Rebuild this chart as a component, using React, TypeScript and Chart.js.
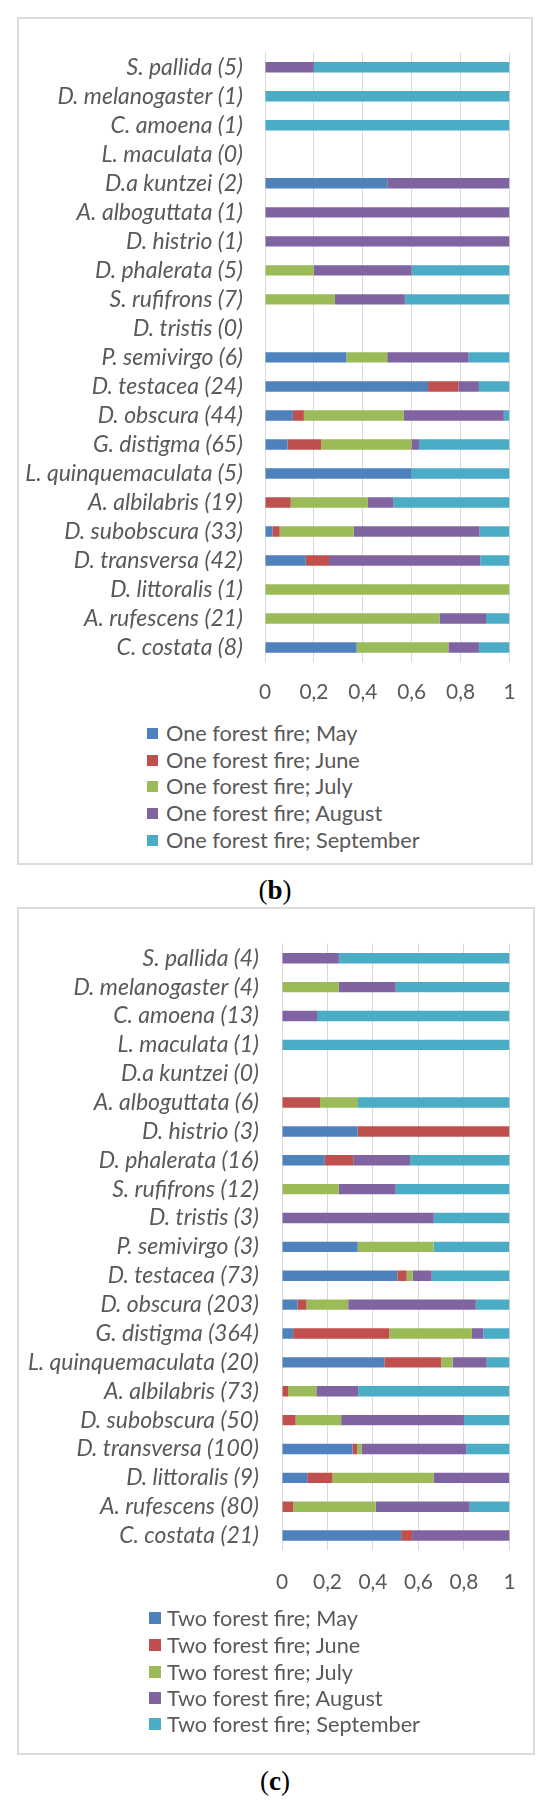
import React, { useEffect, useRef } from "react";
import { Chart, registerables } from "chart.js";

Chart.register(...registerables);

// ---------- data ----------
const categoriesB = [
  "S. pallida (5)", "D. melanogaster (1)", "C. amoena (1)", "L. maculata (0)", "D.a kuntzei (2)",
  "A. alboguttata (1)", "D. histrio (1)", "D. phalerata (5)", "S. rufifrons (7)", "D. tristis (0)",
  "P. semivirgo (6)", "D. testacea (24)", "D. obscura (44)", "G. distigma (65)", "L. quinquemaculata (5)",
  "A. albilabris (19)", "D. subobscura (33)", "D. transversa (42)", "D. littoralis (1)", "A. rufescens (21)",
  "C. costata (8)",
];
const mayB = [0, 0, 0, 0, 0.5, 0, 0, 0, 0, 0, 0.333, 0.667, 0.114, 0.092, 0.6, 0, 0.03, 0.167, 0, 0, 0.375];
const juneB = [0, 0, 0, 0, 0, 0, 0, 0, 0, 0, 0, 0.125, 0.045, 0.138, 0, 0.105, 0.03, 0.095, 0, 0, 0];
const julyB = [0, 0, 0, 0, 0, 0, 0, 0.2, 0.286, 0, 0.167, 0, 0.409, 0.369, 0, 0.316, 0.303, 0, 1, 0.714, 0.375];
const augustB = [0.2, 0, 0, 0, 0.5, 1, 1, 0.4, 0.286, 0, 0.333, 0.083, 0.409, 0.031, 0, 0.105, 0.515, 0.619, 0, 0.19, 0.125];
const septemberB = [0.8, 1, 1, 0, 0, 0, 0, 0.4, 0.428, 0, 0.167, 0.125, 0.023, 0.37, 0.4, 0.474, 0.121, 0.119, 0, 0.096, 0.125];

const categoriesC = [
  "S. pallida (4)", "D. melanogaster (4)", "C. amoena (13)", "L. maculata (1)", "D.a kuntzei (0)",
  "A. alboguttata (6)", "D. histrio (3)", "D. phalerata (16)", "S. rufifrons (12)", "D. tristis (3)",
  "P. semivirgo (3)", "D. testacea (73)", "D. obscura (203)", "G. distigma (364)", "L. quinquemaculata (20)",
  "A. albilabris (73)", "D. subobscura (50)", "D. transversa (100)", "D. littoralis (9)", "A. rufescens (80)",
  "C. costata (21)",
];
const mayC = [0, 0, 0, 0, 0, 0, 0.333, 0.188, 0, 0, 0.333, 0.507, 0.069, 0.049, 0.45, 0, 0, 0.31, 0.111, 0, 0.524];
const juneC = [0, 0, 0, 0, 0, 0.167, 0.667, 0.125, 0, 0, 0, 0.041, 0.039, 0.423, 0.25, 0.027, 0.06, 0.02, 0.111, 0.05, 0.048];
const julyC = [0, 0.25, 0, 0, 0, 0.167, 0, 0, 0.25, 0, 0.333, 0.027, 0.183, 0.363, 0.05, 0.124, 0.2, 0.02, 0.444, 0.362, 0];
const augustC = [0.25, 0.25, 0.154, 0, 0, 0, 0, 0.25, 0.25, 0.667, 0, 0.083, 0.561, 0.05, 0.15, 0.184, 0.54, 0.46, 0.333, 0.413, 0.429];
const septemberC = [0.75, 0.5, 0.846, 1, 0, 0.667, 0, 0.438, 0.5, 0.333, 0.333, 0.342, 0.148, 0.115, 0.1, 0.665, 0.2, 0.19, 0, 0.175, 0];

const months = ["May", "June", "July", "August", "September"];
const xTickLabels = ["0", "0,2", "0,4", "0,6", "0,8", "1"];

// ---------- styles ----------
const COLORS = ["#4F81BD", "#C0504D", "#9BBB59", "#8064A2", "#4BACC6"];
const TEXT = "#595959";
const FONT = "Lato, 'Open Sans', sans-serif";

// font size chosen so that a reference string gets a given pixel width
function fitSize(text: string, style: string, target: number): number {
  const ctx = document.createElement("canvas").getContext("2d");
  if (!ctx) return 21;
  ctx.font = `${style} 100px ${FONT}`;
  const w = ctx.measureText(text).width || 1;
  return Math.round((target / w) * 1000) / 10;
}

type Cfg = {
  boxLeft: number; boxTop: number; boxW: number; boxH: number;
  yAxisW: number; yPad: number; padTop: number; padRight: number;
  plotBottom: number; labelCenter: number;
  legendBoxX: number; legendTextX: number; legendRows: number[]; legendBox: number;
  captionY: number; caption: string;
};

const CANVAS_H = 700;

function StackChart({ categories, series, prefix, cfg }: { categories: string[]; series: number[][]; prefix: string; cfg: Cfg }) {
  const ref = useRef<HTMLCanvasElement | null>(null);
  const labelFS = fitSize("L. quinquemaculata (5)", "italic", 218);
  const legendFS = fitSize("One forest fire; September", "normal", 254);
  const tickFS = fitSize("0,2", "normal", 29);

  useEffect(() => {
    if (!ref.current) return;
    const xAxisH = CANVAS_H - cfg.plotBottom;
    const xPad = cfg.labelCenter - cfg.plotBottom - (tickFS * 1.2) / 2;
    const chart = new Chart(ref.current, {
      type: "bar",
      data: {
        labels: categories,
        datasets: series.map((vals, i) => ({
          label: `${prefix}; ${months[i]}`,
          data: vals,
          backgroundColor: COLORS[i],
          borderWidth: 0,
          barPercentage: 0.36,
          categoryPercentage: 1,
        })),
      },
      options: {
        indexAxis: "y",
        responsive: false,
        animation: false,
        layout: { padding: { top: cfg.padTop, right: cfg.padRight, left: 0, bottom: 0 } },
        plugins: { legend: { display: false }, tooltip: { enabled: false } },
        scales: {
          x: {
            stacked: true,
            min: 0,
            max: 1,
            ticks: {
              stepSize: 0.2,
              color: TEXT,
              font: { family: FONT, size: tickFS },
              padding: xPad,
              callback: (_v: any, idx: number) => xTickLabels[idx],
            },
            grid: { color: "#d9d9d9", lineWidth: 1, drawTicks: false },
            border: { display: false },
            afterFit: (s: any) => { s.height = xAxisH; },
          },
          y: {
            stacked: true,
            ticks: {
              color: TEXT,
              font: { family: FONT, size: labelFS, style: "italic" },
              padding: cfg.yPad,
              autoSkip: false,
            },
            grid: { display: false, drawTicks: false },
            border: { display: false },
            afterFit: (s: any) => { s.width = cfg.yAxisW; },
          },
        },
      } as any,
    });
    return () => chart.destroy();
  }, []);

  return (
    <>
      <div
        style={{
          position: "absolute",
          left: cfg.boxLeft,
          top: cfg.boxTop,
          width: cfg.boxW,
          height: cfg.boxH,
          border: "2px solid #dcdcdc",
          boxSizing: "border-box",
          background: "#fff",
        }}
      />
      <canvas
        ref={ref}
        width={cfg.boxW}
        height={CANVAS_H}
        style={{ position: "absolute", left: cfg.boxLeft, top: cfg.boxTop, width: cfg.boxW, height: CANVAS_H }}
      />
      {months.map((m, i) => (
        <div
          key={m}
          style={{
            position: "absolute",
            left: cfg.boxLeft + cfg.legendBoxX,
            top: cfg.boxTop + cfg.legendRows[i] - 15,
            height: 30,
            display: "flex",
            alignItems: "center",
            whiteSpace: "nowrap",
            fontFamily: FONT,
            fontSize: legendFS,
            color: TEXT,
          }}
        >
          <span
            style={{
              display: "inline-block",
              flex: "none",
              width: cfg.legendBox,
              height: cfg.legendBox,
              background: COLORS[i],
              marginRight: cfg.legendTextX - cfg.legendBoxX - cfg.legendBox,
            }}
          />
          <span>{`${prefix}; ${m}`}</span>
        </div>
      ))}
      <div
        style={{
          position: "absolute",
          left: 0,
          width: 550,
          top: cfg.captionY - 18,
          height: 36,
          lineHeight: "36px",
          textAlign: "center",
          fontFamily: "'Liberation Serif', 'Times New Roman', serif",
          fontSize: 27,
          color: "#000",
        }}
      >
        (<b>{cfg.caption}</b>)
      </div>
    </>
  );
}

const cfgB: Cfg = {
  boxLeft: 17, boxTop: 17, boxW: 516, boxH: 848,
  yAxisW: 248, yPad: 22, padTop: 35, padRight: 23,
  plotBottom: 645, labelCenter: 675,
  legendBoxX: 130, legendTextX: 149, legendRows: [716, 743, 769, 796, 823], legendBox: 11,
  captionY: 890, caption: "b",
};

const cfgC: Cfg = {
  boxLeft: 17, boxTop: 907, boxW: 518, boxH: 848,
  yAxisW: 265, yPad: 23, padTop: 21, padRight: 22,
  plotBottom: 643, labelCenter: 675,
  legendBoxX: 132, legendTextX: 150, legendRows: [711, 738, 765, 791, 817], legendBox: 12,
  captionY: 1781, caption: "c",
};

export default function App() {
  return (
    <div style={{ position: "absolute", left: 0, top: 0, width: 550, height: 1805, background: "#fff" }}>
      <StackChart
        categories={categoriesB}
        series={[mayB, juneB, julyB, augustB, septemberB]}
        prefix="One forest fire"
        cfg={cfgB}
      />
      <StackChart
        categories={categoriesC}
        series={[mayC, juneC, julyC, augustC, septemberC]}
        prefix="Two forest fire"
        cfg={cfgC}
      />
    </div>
  );
}
